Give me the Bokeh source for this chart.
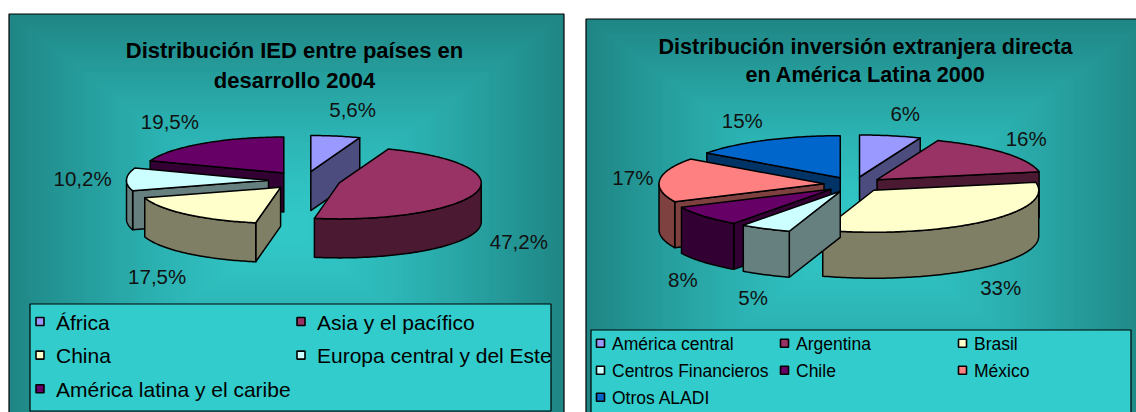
import numpy as np
from bokeh.plotting import figure
from bokeh.models import Range1d
from bokeh.core.properties import value
from bokeh.embed import file_html
from bokeh.resources import INLINE

# ---------------- data ----------------
ied_title = ["Distribución IED entre países en", "desarrollo 2004"]
ied_categories = ["África", "Asia y el pacífico", "China",
                  "Europa central y del Este", "América latina y el caribe"]
ied_shares = [5.6, 47.2, 17.5, 10.2, 19.5]
ied_labels = ["5,6%", "47,2%", "17,5%", "10,2%", "19,5%"]
ied_colors = ["#9999FF", "#993366", "#FFFFCC", "#CCFFFF", "#660066"]

al_title = ["Distribución inversión extranjera directa", "en América Latina 2000"]
al_categories = ["América central", "Argentina", "Brasil", "Centros Financieros",
                 "Chile", "México", "Otros ALADI"]
al_shares = [6, 16, 33, 5, 8, 17, 15]
al_labels = ["6%", "16%", "33%", "5%", "8%", "17%", "15%"]
al_colors = ["#9999FF", "#993366", "#FFFFCC", "#CCFFFF", "#660066", "#FF8080", "#0066CC"]

FONT = "Liberation Sans"

# ---------------- figure ----------------
W, H = 1136, 412
p = figure(width=W, height=H, x_range=Range1d(0, W), y_range=Range1d(H, 0),
           output_backend="svg", toolbar_location=None, min_border=0,
           x_axis_type=None, y_axis_type=None)
p.grid.visible = False
p.outline_line_color = None
p.background_fill_color = "white"
p.border_fill_color = "white"


def darken(hexcol, f=0.5):
    h = hexcol.lstrip("#")
    r, g, b = (int(h[i:i + 2], 16) for i in (0, 2, 4))
    return "#%02x%02x%02x" % (int(r * f), int(g * f), int(b * f))


def panel(x0, x1, y0, y1, steps=70):
    cxp, cyp = (x0 + x1) / 2, (y0 + y1) / 2
    hw, hh = (x1 - x0) / 2, (y1 - y0) / 2
    edge = np.array([31, 134, 133])
    center = np.array([50, 200, 200])
    ts = np.linspace(1, 0, steps, endpoint=False)
    cols = []
    for t in ts:
        c = center + (edge - center) * (t ** 1.4)
        cols.append("#%02x%02x%02x" % tuple(int(round(v)) for v in c))
    p.quad(left=cxp - hw * ts, right=cxp + hw * ts, top=cyp - hh * ts, bottom=cyp + hh * ts,
           fill_color=cols, line_color=None)
    p.quad(left=[x0], right=[x1], top=[y0], bottom=[y1], fill_color=None,
           line_color="black", line_width=1.2)


def pie3d(shares, colors, cx, cy, rx, ry, depth, explode):
    total = float(sum(shares))
    k = ry / rx
    edges = np.concatenate([[0.0], np.cumsum(shares)]) / total * 360.0
    slices = []
    for i in range(len(shares)):
        a0, a1 = edges[i], edges[i + 1]
        mid = np.radians((a0 + a1) / 2)
        ox = cx + explode * np.sin(mid)
        oy = cy - explode * k * np.cos(mid)
        slices.append((oy, i, a0, a1, ox))
    slices.sort()
    xs, ys, fills = [], [], []

    def pt(ox, oy, a):
        r = np.radians(a)
        return ox + rx * np.sin(r), oy - ry * np.cos(r)

    for oy, i, a0, a1, ox in slices:
        top = colors[i]
        side = darken(top)
        faces = []
        if np.sin(np.radians(a0)) < -1e-9:
            faces.append(a0)
        if np.sin(np.radians(a1)) > 1e-9:
            faces.append(a1)
        for a in faces:
            px, py = pt(ox, oy, a)
            xs.append([ox, px, px, ox])
            ys.append([oy, py, py + depth, oy + depth])
            fills.append(side)
        lo, hi = max(a0, 90.0), min(a1, 270.0)
        if lo < hi:
            th = np.radians(np.linspace(lo, hi, int(hi - lo) + 2))
            ax = ox + rx * np.sin(th)
            ay = oy - ry * np.cos(th)
            xs.append(list(ax) + list(ax[::-1]))
            ys.append(list(ay) + list((ay + depth)[::-1]))
            fills.append(side)
        th = np.radians(np.linspace(a0, a1, int(a1 - a0) + 2))
        xs.append([ox] + list(ox + rx * np.sin(th)))
        ys.append([oy] + list(oy - ry * np.cos(th)))
        fills.append(top)
    p.patches(xs=xs, ys=ys, fill_color=fills, line_color="black", line_width=1.5,
              line_join="round")
    return edges


def pie_labels(edges, labels, cx, cy, depth, ax=222, ax_top=60, ay=72):
    lx, ly = [], []
    for i in range(len(labels)):
        m = np.radians((edges[i] + edges[i + 1]) / 2)
        s, c = np.sin(m), np.cos(m)
        rx_l = ax + ax_top * max(c, 0) ** 8
        lx.append(cx + rx_l * s)
        ly.append(cy - ay * c + (depth + 3 if c < 0 else 0))
    p.text(x=lx, y=ly, text=labels, text_align="center", text_baseline="middle",
           text_font=value(FONT), text_font_size="20.5px", text_color="#111111")


def title(lines, xc, y1, dy, fs):
    p.text(x=[xc] * len(lines), y=[y1 + dy * j for j in range(len(lines))], text=lines,
           text_align="center", text_baseline="middle", text_font=value(FONT),
           text_font_style="bold", text_font_size=fs, text_color="black")


def legend(box, cats, colors, ncol, col_x, text_dx, row0, drow, msize, fsize):
    x0, x1, y0, y1 = box
    p.quad(left=[x0], right=[x1], top=[y0], bottom=[y1], fill_color="#33CCCC",
           line_color="black", line_width=1.2)
    mx, my, tx, ty = [], [], [], []
    for i, cat in enumerate(cats):
        c, r = i % ncol, i // ncol
        mx.append(col_x[c])
        my.append(row0 + r * drow)
        tx.append(col_x[c] + text_dx)
        ty.append(row0 + r * drow + 0.5)
    p.rect(x=mx, y=my, width=msize, height=msize, fill_color=colors, line_color="black",
           line_width=1.6)
    p.text(x=tx, y=ty, text=cats, text_align="left", text_baseline="middle",
           text_font=value(FONT), text_font_size=fsize, text_color="black")


# ---------------- panel 1 ----------------
panel(8.5, 563.5, 13.5, 440)
title(ied_title, 294, 50, 29.5, "22px")
e1 = pie3d(ied_shares, ied_colors, 304, 180, 142, 36, 39, 36)
pie_labels(e1, ied_labels, 304, 180, 39)
legend((29.5, 550.5, 303.5, 410.5), ied_categories, ied_colors, 2, [39.5, 300.5], 16,
       321, 33.6, 8, "21px")

# ---------------- panel 2 ----------------
panel(585.5, 1150, 18.5, 440)
title(al_title, 865, 45.5, 28, "21.6px")
e2 = pie3d(al_shares, al_colors, 853.4, 184, 165, 42, 46, 30)
pie_labels(e2, al_labels, 853.4, 184, 46)
legend((590.5, 1130.5, 329.5, 440), al_categories, al_colors, 3, [600, 784, 962], 11.5,
       342.7, 27, 8, "17.5px")

open("out.html", "w").write(file_html(p, INLINE))
